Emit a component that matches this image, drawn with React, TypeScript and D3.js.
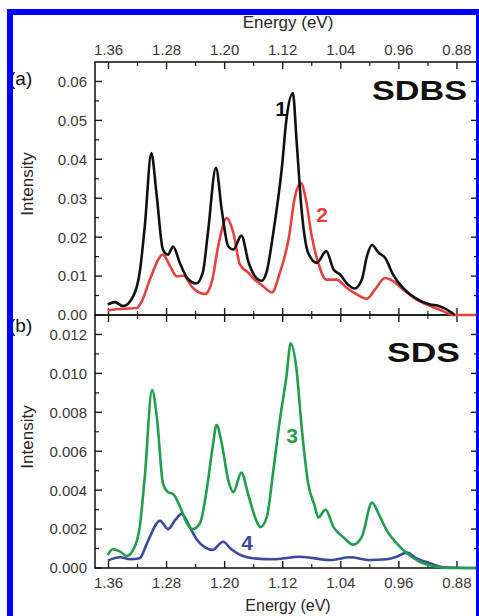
import React from "react";
import * as d3 from "d3";

// Energy (eV) / Intensity pairs
const sdbs1Energy = [1.361,1.351,1.340,1.326,1.317,1.310,1.301,1.294,1.285,1.278,1.271,1.262,1.252,1.239,1.230,1.223,1.212,1.204,1.195,1.188,1.177,1.167,1.158,1.149,1.142,1.133,1.121,1.115,1.106,1.101,1.094,1.085,1.073,1.060,1.050,1.041,1.030,1.021,1.011,1.004,0.997,0.988,0.979,0.968,0.954,0.936,0.917,0.906,0.887,0.883];
const sdbs1Intensity = [0.0027,0.0033,0.0023,0.0048,0.011,0.0228,0.0416,0.0314,0.0168,0.0155,0.0176,0.0135,0.0096,0.0081,0.011,0.0212,0.0378,0.027,0.0176,0.0168,0.0204,0.0135,0.0099,0.0088,0.0112,0.0211,0.0382,0.0501,0.057,0.045,0.027,0.016,0.0134,0.0164,0.0117,0.0104,0.0078,0.0068,0.0091,0.0151,0.018,0.016,0.0147,0.0104,0.0069,0.0042,0.0027,0.0024,0.0006,0.0];

const sdbs2Energy = [1.361,1.340,1.321,1.313,1.303,1.285,1.275,1.266,1.257,1.244,1.227,1.217,1.209,1.197,1.188,1.179,1.167,1.161,1.147,1.135,1.124,1.112,1.103,1.095,1.088,1.080,1.071,1.060,1.046,1.032,1.018,1.004,0.993,0.979,0.968,0.954,0.936,0.917,0.899,0.886,0.852];
const sdbs2Intensity = [0.0012,0.0016,0.0018,0.004,0.0091,0.0155,0.0125,0.0099,0.0101,0.007,0.0054,0.0091,0.0176,0.0249,0.0211,0.013,0.0108,0.0095,0.0074,0.0058,0.0108,0.0194,0.0305,0.0339,0.0296,0.0202,0.0134,0.0091,0.0091,0.007,0.0053,0.0042,0.0065,0.0095,0.0087,0.0065,0.004,0.0023,0.001,0.0,0.0];

const sds3Energy = [1.361,1.354,1.344,1.335,1.326,1.317,1.310,1.300,1.293,1.285,1.278,1.271,1.262,1.252,1.244,1.234,1.224,1.217,1.211,1.204,1.195,1.188,1.177,1.167,1.158,1.151,1.142,1.133,1.124,1.115,1.109,1.101,1.094,1.085,1.076,1.071,1.061,1.050,1.037,1.023,1.011,0.997,0.988,0.977,0.963,0.949,0.931,0.913,0.894,0.852];
const sds3Intensity = [0.00067,0.00096,0.00084,0.00062,0.00093,0.0021,0.0047,0.00915,0.0076,0.00435,0.0039,0.0038,0.0032,0.0023,0.002,0.0023,0.0042,0.0061,0.00735,0.0064,0.0045,0.0039,0.0049,0.0037,0.0026,0.0021,0.0026,0.005,0.0076,0.0098,0.01155,0.0102,0.00726,0.00435,0.0032,0.0026,0.003,0.0021,0.0016,0.0012,0.0016,0.00336,0.0028,0.00195,0.00127,0.00076,0.00032,0.0001,0.0,0.0];

const sds4Energy = [1.361,1.344,1.330,1.317,1.307,1.289,1.278,1.268,1.259,1.248,1.238,1.227,1.217,1.202,1.192,1.180,1.169,1.161,1.133,1.096,1.055,1.027,1.000,0.977,0.963,0.949,0.936,0.917,0.899,0.852];
const sds4Intensity = [0.00038,0.00055,0.00045,0.0005,0.00127,0.00243,0.002,0.00247,0.00278,0.0021,0.00144,0.00106,0.00093,0.00135,0.001,0.0007,0.00055,0.0005,0.00045,0.00058,0.00041,0.00055,0.00041,0.00045,0.00058,0.00079,0.0005,0.00024,0.00004,0.0];

const xMajorTicks = [1.36, 1.28, 1.20, 1.12, 1.04, 0.96, 0.88];
const xMinorTicks = [1.32, 1.24, 1.16, 1.08, 1.00, 0.92];
const yTicksA = [0.00, 0.01, 0.02, 0.03, 0.04, 0.05, 0.06];
const yMinorA = [0.005, 0.015, 0.025, 0.035, 0.045, 0.055];
const yTicksB = [0.000, 0.002, 0.004, 0.006, 0.008, 0.010, 0.012];
const yMinorB = [0.001, 0.003, 0.005, 0.007, 0.009, 0.011];

const FONT = "'Liberation Sans', Arial, sans-serif";
const AXIS = "#1e1a1a";
const TICKTXT = "#3c3636";

const L = 95, R = 478, TA = 62, BA = 315, TB = 315, BB = 568;

export default function App() {
  const x = d3.scaleLinear().domain([1.3786, 0.851]).range([L, R]);
  const yA = d3.scaleLinear().domain([0, 0.065]).range([BA, TA]);
  const yB = d3.scaleLinear().domain([0, 0.013]).range([BB, TB]);

  const mk = (E: number[], I: number[], y: d3.ScaleLinear<number, number>) =>
    d3.line<number>().x((_, i) => x(E[i])).y((d) => y(d)).curve(d3.curveMonotoneX)(I) || "";

  const panel = (top: number, bottom: number, y: d3.ScaleLinear<number, number>, major: number[], minor: number[], fmt: (v: number) => string, key: string) => (
    <g key={key}>
      <rect x={L} y={top} width={R - L} height={bottom - top} fill="none" stroke={AXIS} strokeWidth={1.6} />
      {xMajorTicks.map((t) => (
        <g key={"xm" + t}>
          <line x1={x(t)} x2={x(t)} y1={top} y2={top + 7} stroke={AXIS} strokeWidth={1.4} />
          <line x1={x(t)} x2={x(t)} y1={bottom} y2={bottom - 7} stroke={AXIS} strokeWidth={1.4} />
        </g>
      ))}
      {xMinorTicks.map((t) => (
        <g key={"xn" + t}>
          <line x1={x(t)} x2={x(t)} y1={top} y2={top + 4} stroke={AXIS} strokeWidth={1.2} />
          <line x1={x(t)} x2={x(t)} y1={bottom} y2={bottom - 4} stroke={AXIS} strokeWidth={1.2} />
        </g>
      ))}
      {major.map((t) => (
        <g key={"ym" + t}>
          <line x1={L} x2={L + 7} y1={y(t)} y2={y(t)} stroke={AXIS} strokeWidth={1.4} />
          <line x1={R} x2={R - 7} y1={y(t)} y2={y(t)} stroke={AXIS} strokeWidth={1.4} />
          <text x={87} y={y(t)} dy="0.36em" textAnchor="end" fontSize={15} fill={TICKTXT} fontFamily={FONT}>{fmt(t)}</text>
        </g>
      ))}
      {minor.map((t) => (
        <g key={"yn" + t}>
          <line x1={L} x2={L + 4} y1={y(t)} y2={y(t)} stroke={AXIS} strokeWidth={1.2} />
          <line x1={R} x2={R - 4} y1={y(t)} y2={y(t)} stroke={AXIS} strokeWidth={1.2} />
        </g>
      ))}
    </g>
  );

  return (
    <svg width={479} height={616} style={{ position: "absolute", left: 0, top: 0, background: "#fff" }}>
      <rect x={0} y={0} width={479} height={616} fill="#fff" />
      {panel(TA, BA, yA, yTicksA, yMinorA, (v) => v.toFixed(2), "a")}
      {panel(TB, BB, yB, yTicksB, yMinorB, (v) => v.toFixed(3), "b")}

      {xMajorTicks.map((t) => (
        <g key={"xl" + t}>
          <text x={x(t)} y={50} dy="0.36em" textAnchor="middle" fontSize={15} fill={TICKTXT} fontFamily={FONT}>{t.toFixed(2)}</text>
          <text x={x(t)} y={583} dy="0.36em" textAnchor="middle" fontSize={15} fill={TICKTXT} fontFamily={FONT}>{t.toFixed(2)}</text>
        </g>
      ))}

      <text x={288} y={22} dy="0.36em" textAnchor="middle" fontSize={17} fill="#2a2424" fontFamily={FONT}>Energy (eV)</text>
      <text x={288} y={605} dy="0.36em" textAnchor="middle" fontSize={16} fill="#2a2424" fontFamily={FONT}>Energy (eV)</text>
      <text transform="translate(27,184) rotate(-90)" dy="0.36em" textAnchor="middle" fontSize={17} fill="#2a2424" fontFamily={FONT}>Intensity</text>
      <text transform="translate(27,437) rotate(-90)" dy="0.36em" textAnchor="middle" fontSize={17} fill="#2a2424" fontFamily={FONT}>Intensity</text>

      <text x={9} y={78} dy="0.36em" fontSize={19} fill="#111" fontFamily={FONT}>(a)</text>
      <text x={9} y={325} dy="0.36em" fontSize={19} fill="#111" fontFamily={FONT}>(b)</text>

      <path d={mk(sdbs2Energy, sdbs2Intensity, yA)} fill="none" stroke="#e8403f" strokeWidth={2.6} strokeLinejoin="round" />
      <path d={mk(sdbs1Energy, sdbs1Intensity, yA)} fill="none" stroke="#121010" strokeWidth={2.6} strokeLinejoin="round" />
      <path d={mk(sds4Energy, sds4Intensity, yB)} fill="none" stroke="#3a48a4" strokeWidth={2.6} strokeLinejoin="round" />
      <path d={mk(sds3Energy, sds3Intensity, yB)} fill="none" stroke="#1f9e4c" strokeWidth={2.6} strokeLinejoin="round" />

      <text x={372} y={90} dy="0.36em" fontSize={28} fontWeight="bold" fill="#111" fontFamily={FONT} textLength={95} lengthAdjust="spacingAndGlyphs">SDBS</text>
      <text x={387} y={352} dy="0.36em" fontSize={28} fontWeight="bold" fill="#111" fontFamily={FONT} textLength={73} lengthAdjust="spacingAndGlyphs">SDS</text>

      <text x={281} y={108} dy="0.36em" textAnchor="middle" fontSize={21} fontWeight="bold" fill="#111" fontFamily={FONT}>1</text>
      <text x={322} y={214} dy="0.36em" textAnchor="middle" fontSize={21} fontWeight="bold" fill="#e8403f" fontFamily={FONT}>2</text>
      <text x={292} y={435} dy="0.36em" textAnchor="middle" fontSize={21} fontWeight="bold" fill="#1f9e4c" fontFamily={FONT}>3</text>
      <text x={247} y={542} dy="0.36em" textAnchor="middle" fontSize={21} fontWeight="bold" fill="#3a48a4" fontFamily={FONT}>4</text>

      <rect x={7} y={9} width={472} height={6} fill="#0000ff" />
      <rect x={7} y={9} width={6} height={607} fill="#0000ff" />
      <rect x={476} y={9} width={3} height={607} fill="#0000ff" />
    </svg>
  );
}
